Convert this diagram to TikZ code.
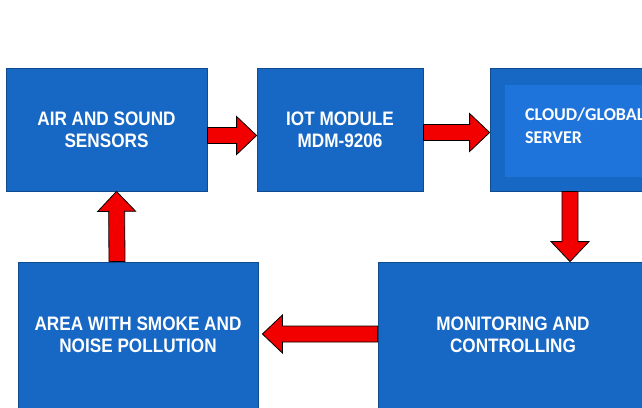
\documentclass[tikz,border=0pt]{standalone}
\usepackage{fontspec}
\setmainfont{Liberation Sans}
\newfontfamily\boxfont[FakeStretch=0.88]{Liberation Sans}
\newfontfamily\cloudfont{Carlito}
\usetikzlibrary{calc}
\definecolor{boxc}{HTML}{1767C4}
\definecolor{inner}{HTML}{1E74DA}
\definecolor{rim}{HTML}{0E4C8E}
\definecolor{arr}{HTML}{F20000}

% fat block arrow from #1 (tail) to #2 (tip)
\newcommand{\fatarrow}[2]{%
  \path (#1) coordinate (tl) (#2) coordinate (tp);
  \coordinate (hb) at ($(tp)!20pt!(tl)$);
  \filldraw[ar] ($(tl)!8pt!90:(tp)$) -- ($(hb)!8pt!90:(tp)$) -- ($(hb)!19pt!90:(tp)$)
    -- (tp) -- ($(hb)!19pt!-90:(tp)$) -- ($(hb)!8pt!-90:(tp)$) -- ($(tl)!8pt!-90:(tp)$) -- cycle;}

\begin{document}
\begin{tikzpicture}[x=1pt, y=-1pt,
    bx/.style={draw=rim, line width=0.8pt, fill=boxc, text=white, align=center,
      inner sep=0pt, font=\boxfont\bfseries\fontsize{19.5}{22}\selectfont},
    ar/.style={fill=arr, draw=black, line width=0.8pt, line join=miter}]

  \useasboundingbox (0,0) rectangle (642,407);
  \clip (0,0) rectangle (642,407);

  % ── top row ──
  \node[bx, minimum width=201pt, minimum height=123pt] (air) at (106.5,129.5) {AIR AND SOUND\\SENSORS};
  \node[bx, minimum width=166pt, minimum height=123pt] (iot) at (340,129.5) {IOT MODULE\\MDM-9206};
  \node[bx, minimum width=170pt, minimum height=123pt] (cloud) at (575,129.5) {};
  \node[fill=inner, minimum width=160pt, minimum height=92pt, inner sep=0pt] (cin) at (585,131) {};
  \node[anchor=west, align=left, text=white, inner sep=0pt,
    font=\cloudfont\bfseries\fontsize{18}{23}\selectfont] (ctxt) at (525,125.5) {CLOUD/GLOBAL\\SERVER};

  % ── bottom row ──
  \node[bx, minimum width=240pt, minimum height=146pt] (area) at (138,335) {AREA WITH SMOKE AND\\NOISE POLLUTION};
  \node[bx, minimum width=270pt, minimum height=146pt] (mon) at (513,335) {MONITORING AND\\CONTROLLING};

  % ── arrows ──
  \fatarrow{$(air.east)+(0,6)$}{$(iot.west)+(0,6)$}
  \fatarrow{$(iot.east)+(0,3)$}{$(cloud.west)+(0,3)$}
  \fatarrow{$(cloud.south)+(-5,0)$}{$(mon.north)+(57,0)$}
  \fatarrow{$(mon.west)+(0,-1)$}{$(area.east)+(4,-1)$}
  \fatarrow{$(area.north)+(-21,0)$}{$(air.south)+(10,0)$}
\end{tikzpicture}
\end{document}
